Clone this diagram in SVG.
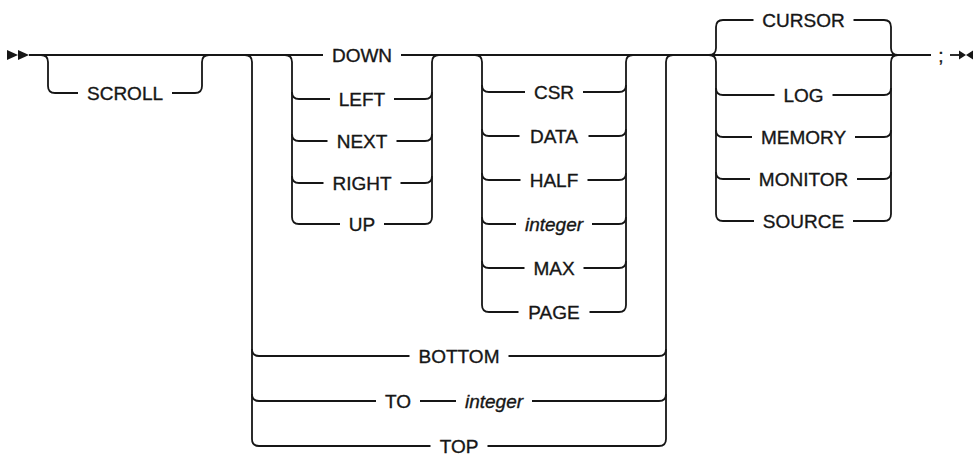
<svg xmlns="http://www.w3.org/2000/svg" width="975" height="455" viewBox="0 0 975 455">
<style>
.ln{fill:none;stroke:#161616;stroke-width:1.8;stroke-linecap:butt;stroke-linejoin:round}
.t{font-family:"Liberation Sans",Arial,sans-serif;font-size:19px;fill:#161616;stroke:#161616;stroke-width:0.35;text-anchor:middle}
.i{font-style:italic}
.mk{fill:#161616}
</style>
<rect width="975" height="455" fill="#ffffff"/>
<g id="connectors">
  <polygon class="mk" points="7,50 18,55 7,60"/>
  <polygon class="mk" points="18,50 29,55 18,60"/>
  <path class="ln" d="M29,55 H323 M401,55 H931"/>
  <path class="ln" d="M41,55 Q48,55 48,62 V86 Q48,93 55,93 H78 M172,93 H195 Q202,93 202,86 V62 Q202,55 209,55"/>
  <path class="ln" d="M245,55 Q252,55 252,62 V439 Q252,446 259,446 H430.5 M487.5,446 H659 Q666,446 666,439 V62 Q666,55 673,55"/>
  <path class="ln" d="M252,349 Q252,356 259,356 H409.5 M508.5,356 H659 Q666,356 666,349"/>
  <path class="ln" d="M252,394 Q252,401 259,401 H376 M420,401 H456 M532,401 H659 Q666,401 666,394"/>
  <path class="ln" d="M285,55 Q292,55 292,62 V217 Q292,224 299,224 H340 M384,224 H425 Q432,224 432,217 V62 Q432,55 439,55"/>
  <path class="ln" d="M292,92 Q292,99 299,99 H330 M394,99 H425 Q432,99 432,92"/>
  <path class="ln" d="M292,134 Q292,141 299,141 H327.5 M396.5,141 H425 Q432,141 432,134"/>
  <path class="ln" d="M292,176 Q292,183 299,183 H323.5 M400.5,183 H425 Q432,183 432,176"/>
  <path class="ln" d="M475,55 Q482,55 482,62 V305 Q482,312 489,312 H518.5 M589.5,312 H619 Q626,312 626,305 V62 Q626,55 633,55"/>
  <path class="ln" d="M482,85 Q482,92 489,92 H525 M583,92 H619 Q626,92 626,85"/>
  <path class="ln" d="M482,129 Q482,136 489,136 H519.5 M588.5,136 H619 Q626,136 626,129"/>
  <path class="ln" d="M482,173 Q482,180 489,180 H520.5 M587.5,180 H619 Q626,180 626,173"/>
  <path class="ln" d="M482,217 Q482,224 489,224 H516 M592,224 H619 Q626,224 626,217"/>
  <path class="ln" d="M482,261 Q482,268 489,268 H524.5 M583.5,268 H619 Q626,268 626,261"/>
  <path class="ln" d="M709,55 Q716,55 716,48 V27 Q716,20 723,20 H753.5 M853.5,20 H884 Q891,20 891,27 V48 Q891,55 898,55"/>
  <path class="ln" d="M709,55 Q716,55 716,62 V214 Q716,221 723,221 H754 M853,221 H884 Q891,221 891,214 V62 Q891,55 898,55"/>
  <path class="ln" d="M716,88 Q716,95 723,95 H774.5 M832.5,95 H884 Q891,95 891,88"/>
  <path class="ln" d="M716,130 Q716,137 723,137 H752 M855,137 H884 Q891,137 891,130"/>
  <path class="ln" d="M716,172 Q716,179 723,179 H750 M857,179 H884 Q891,179 891,172"/>
  <path class="ln" d="M950,55 H962"/>
  <polygon class="mk" points="959,50.5 966,55 959,59.5"/>
  <polygon class="mk" points="973,50.5 966,55 973,59.5"/>
</g>
<g id="n-scroll"><text class="t" x="125" y="100">SCROLL</text></g>
<g id="n-down"><text class="t" x="362" y="62">DOWN</text></g>
<g id="n-left"><text class="t" x="362" y="106">LEFT</text></g>
<g id="n-next"><text class="t" x="362" y="148">NEXT</text></g>
<g id="n-right"><text class="t" x="362" y="190">RIGHT</text></g>
<g id="n-up"><text class="t" x="362" y="231">UP</text></g>
<g id="n-csr"><text class="t" x="554" y="99">CSR</text></g>
<g id="n-data"><text class="t" x="554" y="143">DATA</text></g>
<g id="n-half"><text class="t" x="554" y="187">HALF</text></g>
<g id="n-integer1"><text class="t i" x="554" y="231">integer</text></g>
<g id="n-max"><text class="t" x="554" y="275">MAX</text></g>
<g id="n-page"><text class="t" x="554" y="319">PAGE</text></g>
<g id="n-bottom"><text class="t" x="459" y="363">BOTTOM</text></g>
<g id="n-to"><text class="t" x="398" y="408">TO</text></g>
<g id="n-integer2"><text class="t i" x="494" y="408">integer</text></g>
<g id="n-top"><text class="t" x="459" y="452.5">TOP</text></g>
<g id="n-cursor"><text class="t" x="803.5" y="27">CURSOR</text></g>
<g id="n-log"><text class="t" x="803.5" y="102">LOG</text></g>
<g id="n-memory"><text class="t" x="803.5" y="144">MEMORY</text></g>
<g id="n-monitor"><text class="t" x="803.5" y="186">MONITOR</text></g>
<g id="n-source"><text class="t" x="803.5" y="228">SOURCE</text></g>
<g id="n-semicolon"><text class="t" x="941" y="62">;</text></g>
</svg>
